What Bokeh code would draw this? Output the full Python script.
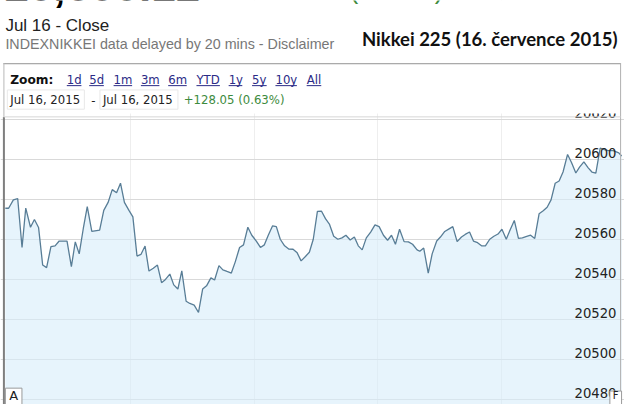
from bokeh.plotting import figure
from bokeh.models import Range1d, FixedTicker
from bokeh.core.properties import value
from bokeh.embed import file_html
from bokeh.resources import INLINE

# ---- data (trading minutes since 9:00, lunch break removed) ----
minutes = [-0.5, 1.1, 3.4, 5.5, 7.6, 9.4, 11.7, 13.6, 15.6, 17.6,
           19.5, 21.6, 23.6, 25.6, 29.4, 31.5, 33.4, 35.3, 37.3, 39.2,
           41.4, 45.2, 47.2, 49.3, 51.3, 53.4, 55.3, 57.2, 59.4, 61.3,
           63.3, 65.2, 67.2, 69.1, 71.2, 73.2, 75.2, 77.1, 79.2, 81.1,
           83.1, 85.0, 87.1, 88.9, 91.0, 93.1, 95.1, 97.0, 99.1, 100.9,
           103.0, 104.9, 106.9, 109.0, 110.9, 113.0, 114.9, 117.0, 118.9, 121.1,
           123.1, 125.0, 126.9, 129.0, 130.8, 132.7, 134.8, 136.8, 138.9, 140.9,
           142.8, 144.9, 146.8, 148.7, 150.7, 152.7, 154.6, 156.5, 158.6, 160.6,
           162.6, 164.5, 166.6, 168.6, 170.5, 172.4, 174.4, 176.5, 178.6, 180.6,
           182.7, 184.7, 186.6, 188.5, 190.5, 192.7, 194.8, 196.8, 199.0, 200.3,
           202.2, 204.4, 206.3, 208.5, 210.3, 212.4, 214.5, 216.3, 218.4, 220.5,
           222.3, 224.4, 226.3, 228.3, 230.2, 232.1, 234.2, 236.2, 238.2, 240.1,
           242.2, 244.1, 246.1, 248.1, 250.0, 252.1, 254.0, 256.0, 258.1, 260.1,
           262.0, 263.9, 265.9, 267.8, 269.7, 271.9, 273.8, 275.9, 277.7, 279.8,
           281.9, 283.7, 285.6, 287.7, 289.7, 291.6, 294.0, 296.7, 298.1]

prices = [20575.5, 20575.5, 20579.7, 20580.3, 20555.9, 20575.6, 20566.0, 20569.9, 20565.9, 20547.1,
          20545.8, 20556.3, 20556.7, 20559.1, 20559.1, 20546.3, 20558.7, 20552.7, 20565.5, 20576.3,
          20563.9, 20564.6, 20574.4, 20578.4, 20584.8, 20583.2, 20588.0, 20578.4, 20574.4, 20571.2,
          20551.6, 20552.4, 20556.6, 20544.1, 20545.5, 20547.1, 20538.3, 20539.9, 20542.6, 20537.2,
          20535.1, 20544.2, 20529.0, 20527.9, 20527.1, 20523.4, 20535.1, 20536.7, 20540.7, 20539.6,
          20546.8, 20544.7, 20543.9, 20543.1, 20548.7, 20555.9, 20557.2, 20566.0, 20562.0, 20559.1,
          20555.9, 20557.2, 20562.0, 20566.7, 20566.3, 20560.0, 20556.7, 20555.1, 20555.0, 20553.2,
          20549.2, 20551.4, 20553.5, 20560.0, 20573.9, 20574.0, 20570.3, 20567.6, 20561.5, 20560.0,
          20560.7, 20562.0, 20559.6, 20561.1, 20556.7, 20554.7, 20560.7, 20563.6, 20567.2, 20566.3,
          20562.0, 20559.5, 20562.0, 20557.5, 20565.0, 20558.8, 20558.7, 20557.5, 20554.7, 20554.0,
          20555.6, 20543.1, 20552.7, 20559.1, 20561.1, 20563.9, 20565.2, 20566.3, 20558.8, 20561.1,
          20562.4, 20563.6, 20559.1, 20558.3, 20556.7, 20556.7, 20560.0, 20561.5, 20562.6, 20565.0,
          20560.0, 20564.8, 20569.4, 20560.4, 20560.7, 20561.4, 20562.0, 20560.4, 20572.7, 20574.2,
          20576.0, 20579.7, 20588.0, 20589.1, 20593.6, 20602.4, 20598.4, 20593.1, 20596.0, 20598.7,
          20595.7, 20593.6, 20593.1, 20605.6, 20604.8, 20604.3, 20604.3, 20603.2, 20601.6]

y_ticks = [20480, 20500, 20520, 20540, 20560, 20580, 20600, 20620]
y_tick_labels = [str(t) for t in y_ticks]
x_grid_minutes = [60, 120, 180, 240]  # 10:00, 11:00, 13:00, 14:00

big_price = "20,600.12"
big_change = "+128.05 (0.63%)"
headline = "Jul 16 - Close"
source_note = "INDEXNIKKEI data delayed by 20 mins - Disclaimer"
title_text = "Nikkei 225 (16. července 2015)"
zoom_links = ["1d", "5d", "1m", "3m", "6m", "YTD", "1y", "5y", "10y", "All"]
date_from = "Jul 16, 2015"
date_to = "Jul 16, 2015"
change_text = "+128.05 (0.63%)"

# ---- layout (reference pixels are scaled into a 624x404 canvas) ----
W, H = 624, 404
SX, SY = W / 640, H / 420
PXY = 2.08 * SY                       # pixels per index point
Y1 = 20600 + (165 * SY) / PXY
Y0 = Y1 - H / PXY
PXX = 2.117 * SX                      # pixels per trading minute
X0 = -(6 * SX) / PXX
X1 = X0 + W / PXX

def dx(rx):
    return X0 + rx * SX / PXX

def dy(ry):
    return Y1 - ry * SY / PXY

p = figure(width=W, height=H, x_range=Range1d(X0, X1), y_range=Range1d(Y0, Y1),
           output_backend="svg", toolbar_location=None, min_border=0,
           outline_line_color=None, background_fill_color="white",
           border_fill_color="white")
p.axis.visible = False
p.xgrid.ticker = FixedTicker(ticks=x_grid_minutes)
p.ygrid.ticker = FixedTicker(ticks=y_ticks)
p.xgrid.grid_line_color = "#eeeeee"
p.ygrid.grid_line_color = "#d9d9d9"
p.xgrid.grid_line_width = 1
p.ygrid.grid_line_width = 1

# area + line
p.varea(x=minutes, y1=Y0, y2=prices, fill_color="#d7edfa", fill_alpha=0.6)
p.line(minutes, prices, line_color="#587d96", line_width=1.3)

# y tick labels drawn inside the plot on the right, sitting on their grid lines
p.text(x=[X1] * len(y_ticks), y=y_ticks, text=y_tick_labels, x_offset=-8, y_offset=-6,
       text_align="right", text_baseline="middle",
       text_font=value("DejaVu Sans"), text_font_size="13.2px", text_color="#222222")

def box(rx0, ry0, rx1, ry1, fill="white", line=None, lw=1):
    p.quad(left=[dx(rx0)], right=[dx(rx1)], top=[dy(ry0)], bottom=[dy(ry1)],
           fill_color=fill, line_color=line, line_width=lw)

def seg(rx0, ry0, rx1, ry1, color, lw=1):
    p.segment(x0=[dx(rx0)], y0=[dy(ry0)], x1=[dx(rx1)], y1=[dy(ry1)],
              line_color=color, line_width=lw)

def txt(rx, ry, s, size, color, font="DejaVu Sans", style="normal", align="left",
        yoff=0):
    p.text(x=[dx(rx)], y=[dy(ry)], text=[s], text_align=align, text_baseline="middle",
           y_offset=yoff, text_font=value(font), text_font_size=size,
           text_font_style=style, text_color=color)

# header background (covers the chart above the panel separator)
box(-10, -20, 700, 117.5, fill="white")

# cut-off quote line at the very top (only the bottoms of the glyphs show)
txt(4, 3, big_price, "44px", "#000000", font="Liberation Sans", style="bold", yoff=-18)
txt(249, -1.5, big_change, "27px", "#3d8b3d", font="Liberation Sans", yoff=-10)

# header texts
txt(5, 26, headline, "17px", "#222222", font="Liberation Sans")
txt(5, 45, source_note, "14.3px", "#777777", font="Liberation Sans")
txt(633, 40, title_text, "18.5px", "#111111", font="Lato", style="bold", align="right")

# panel borders
seg(3, 65.5, 636, 65.5, "#a8a8a8")
seg(3, 66.5, 636, 66.5, "#e6e6e6")
seg(636, 65, 636, 430, "#b0b0b0")
seg(3.5, 65, 3.5, 121, "#b8b8b8", 1)
seg(3.5, 121, 3.5, 430, "#7f7f7f", 2)
seg(3, 121, 636, 121, "#d6d6d6")

# zoom row
txt(10, 83, "Zoom:", "12.2px", "#111111", style="bold")
link_x = [68, 91, 116, 144, 172, 201, 234, 258, 282, 314]
link_w = [15, 15, 19, 19, 19, 24, 14, 15, 22, 15]
for lx, lw_, lab in zip(link_x, link_w, zoom_links):
    txt(lx, 82.5, lab, "11.7px", "#2b2b86")
    seg(lx, 88.5, lx + lw_, 88.5, "#2b2b86")

# date range row
box(7, 93, 86, 113, fill="white", line="#e8e8e8")
box(102, 93, 182, 113, fill="white", line="#e8e8e8")
txt(10, 103.5, date_from, "11.7px", "#222222")
txt(93, 103.5, "-", "11.7px", "#222222")
txt(105, 103.5, date_to, "11.7px", "#222222")
txt(188, 103.5, change_text, "11.7px", "#3d8b3d")

# news flags at the bottom
box(5, 403, 22, 430, fill="white", line="#9a9a9a")
txt(13.5, 410.5, "A", "13px", "#222222", align="center")
box(625, 406, 637, 430, fill="white", line="#9a9a9a")
txt(631, 411, "F", "10px", "#222222", align="center")

open("out.html", "w").write(file_html(p, INLINE))
